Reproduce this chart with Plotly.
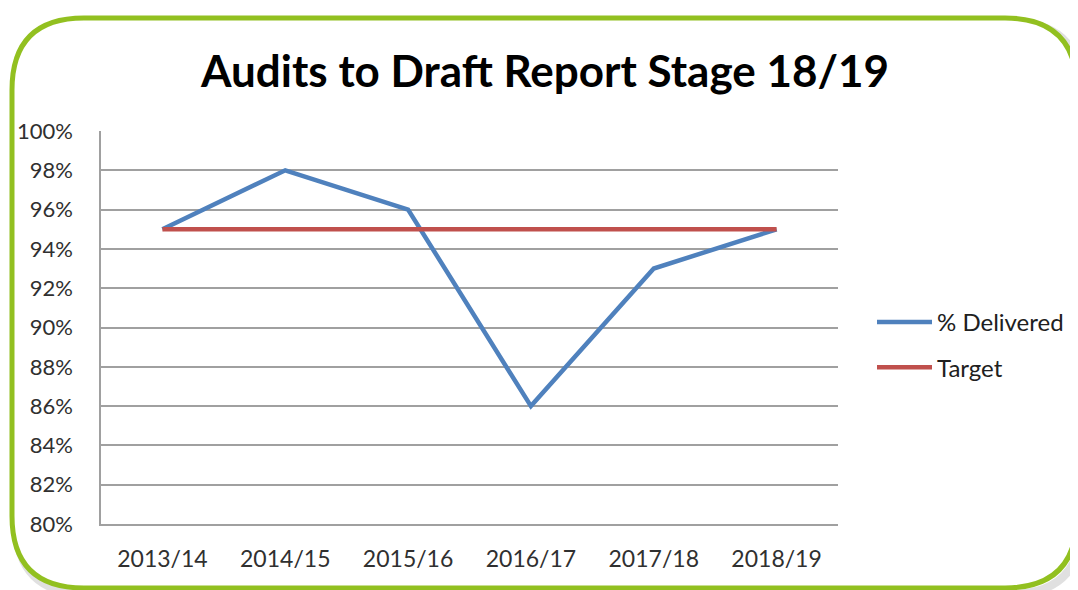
import plotly.graph_objects as go

categories = ["2013/14", "2014/15", "2015/16", "2016/17", "2017/18", "2018/19"]
delivered = [95, 98, 96, 86, 93, 95]
target = [95, 95, 95, 95, 95, 95]
y_ticks = list(range(80, 101, 2))

W, H = 1078, 590
OFF = 8  # page body offset
def px(x):
    return (x - OFF) / W
def py(y):
    return 1 - (y - OFF) / H

FONT = "Lato, Open Sans, sans-serif"

fig = go.Figure()
fig.add_trace(go.Scatter(x=categories, y=delivered, mode="lines", name="% Delivered",
                         legendgroup="a", line=dict(color="#4F81BD", width=4.5)))
fig.add_trace(go.Scatter(x=categories, y=target, mode="lines", name="Target",
                         legendgroup="b", line=dict(color="#C0504D", width=4.5)))

def rounded_path(l, t, r, b, rad):
    return (f"M {px(l+rad)} {py(t)} L {px(r-rad)} {py(t)} "
            f"Q {px(r)} {py(t)} {px(r)} {py(t+rad)} "
            f"L {px(r)} {py(b-rad)} Q {px(r)} {py(b)} {px(r-rad)} {py(b)} "
            f"L {px(l+rad)} {py(b)} Q {px(l)} {py(b)} {px(l)} {py(b-rad)} "
            f"L {px(l)} {py(t+rad)} Q {px(l)} {py(t)} {px(l+rad)} {py(t)} Z")

shapes = [
    dict(type="path", xref="paper", yref="paper", layer="below",
         path=rounded_path(16, 22, 1082, 594, 72),
         line=dict(color="rgba(0,0,0,0.12)", width=8), fillcolor="rgba(0,0,0,0)"),
    dict(type="path", xref="paper", yref="paper", layer="below",
         path=rounded_path(12, 18, 1077, 588, 72),
         line=dict(color="#92C020", width=5), fillcolor="white"),
]

fig.update_layout(
    width=W, height=H,
    margin=dict(l=0, r=0, t=0, b=0, pad=0, autoexpand=False),
    paper_bgcolor="white", plot_bgcolor="white",
    shapes=shapes,
    title=dict(text="<b>Audits to Draft Report Stage 18/19</b>", x=px(545), xanchor="center",
               y=py(72), yanchor="middle",
               font=dict(family=FONT, size=44, color="black")),
    xaxis=dict(domain=[px(101), px(838)], range=[-0.5, 5.5], type="category",
               showgrid=False, showline=True, linecolor="#A0A0A0", linewidth=1.5,
               ticks="", ticklabelstandoff=14, automargin=False,
               tickfont=dict(family=FONT, size=23, color="#303030")),
    yaxis=dict(domain=[py(524), py(131)], range=[80, 100], tickvals=y_ticks,
               ticktext=[f"{v}%" for v in y_ticks],
               showgrid=True, gridcolor="#A0A0A0", gridwidth=1.5,
               showline=True, linecolor="#A0A0A0", linewidth=1.5,
               zeroline=False, ticks="", ticklabelstandoff=22, automargin=False,
               tickfont=dict(family=FONT, size=22, color="#303030")),
    legend=dict(x=px(872), y=py(300), xanchor="left", yanchor="top",
                bgcolor="rgba(0,0,0,0)", tracegroupgap=11, itemwidth=55,
                traceorder="grouped",
                font=dict(family=FONT, size=24, color="#202020")),
    showlegend=True,
)

fig.write_html("out.html")
